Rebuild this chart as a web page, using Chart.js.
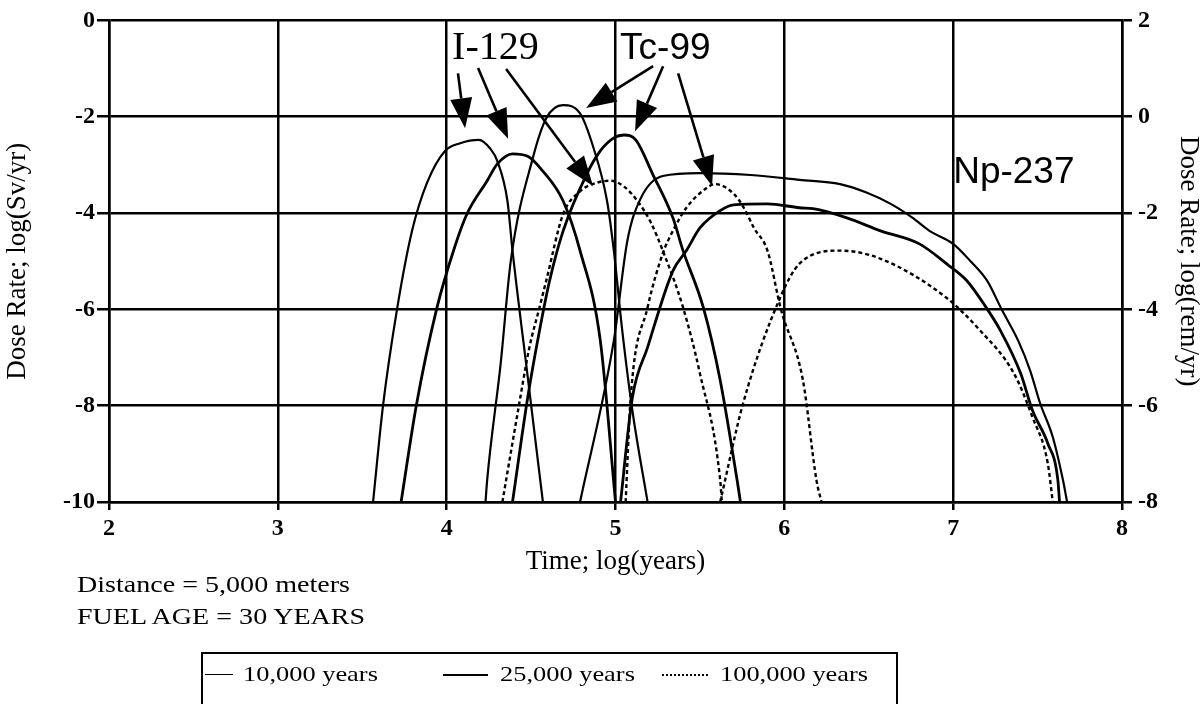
<!DOCTYPE html>
<html>
<head>
<meta charset="utf-8">
<script src="https://cdn.jsdelivr.net/npm/chart.js@4.4.1/dist/chart.umd.min.js"></script>
<style>
  html, body { margin: 0; padding: 0; background: #fff; }
  #wrap { position: relative; width: 1204px; height: 704px; overflow: hidden; background: #fff; }
  #c { position: absolute; left: 0; top: 0; }
  .note { position: absolute; font-family: "Liberation Serif", "Times New Roman", serif; font-size: 23px; color: #000;
          white-space: nowrap; transform-origin: 0 50%; transform: scaleX(1.22); line-height: 28px; }
  #legendBox { position: absolute; left: 201px; top: 652px; width: 697px; height: 90px; border: 2px solid #000; box-sizing: border-box; }
  .lgLine { position: absolute; height: 0; }
  .lgText { position: absolute; font-family: "Liberation Serif", "Times New Roman", serif; font-size: 22px; color: #000;
            white-space: nowrap; transform-origin: 0 50%; transform: scaleX(1.2); line-height: 26px; }
</style>
</head>
<body>
<div id="wrap">
  <canvas id="c" width="1204" height="704"></canvas>
  <div class="note" style="left:77px; top:571px;">Distance = 5,000 meters</div>
  <div class="note" style="left:77px; top:603px;">FUEL AGE = 30 YEARS</div>
  <div id="legendBox"></div>
  <div class="lgLine" style="left:205px; top:674px; width:28px; border-top:1.5px solid #000;"></div>
  <div class="lgText" style="left:243px; top:661px;">10,000 years</div>
  <div class="lgLine" style="left:443px; top:674px; width:45px; border-top:2.5px solid #000;"></div>
  <div class="lgText" style="left:500px; top:661px;">25,000 years</div>
  <div class="lgLine" style="left:662px; top:674px; width:46px; border-top:2px dotted #000;"></div>
  <div class="lgText" style="left:720px; top:661px;">100,000 years</div>
</div>
<script>
// ---- data: [log(years), log(Sv/yr)] ----
const i129_10k = [[3.564,-10],[3.623,-8.0],[3.706,-6.0],[3.795,-4.37],[3.884,-3.37],[3.99,-2.71],[4.08,-2.55],[4.19,-2.48],[4.26,-2.67],[4.30,-2.92],[4.36,-3.75],[4.39,-4.78],[4.48,-7.4],[4.57,-10]];
const i129_25k = [[3.73,-10],[3.82,-8.0],[3.94,-6.0],[4.05,-4.68],[4.12,-4.02],[4.24,-3.33],[4.30,-2.98],[4.39,-2.77],[4.48,-2.82],[4.57,-3.13],[4.69,-3.75],[4.79,-4.78],[4.91,-6.65],[5.0,-10]];
const i129_100k = [[4.33,-10],[4.42,-8.16],[4.49,-6.79],[4.55,-5.96],[4.59,-5.40],[4.69,-4.02],[4.79,-3.55],[4.89,-3.37],[4.97,-3.33],[5.05,-3.45],[5.13,-3.75],[5.21,-4.2],[5.28,-4.78],[5.40,-5.96],[5.50,-7.33],[5.62,-9.54],[5.63,-10]];
const tc99_10k = [[4.23,-10],[4.24,-9.54],[4.32,-7.12],[4.38,-4.99],[4.51,-2.86],[4.59,-2.03],[4.69,-1.76],[4.79,-1.93],[4.87,-2.65],[4.95,-3.75],[4.99,-4.78],[5.04,-6.44],[5.10,-8.10],[5.19,-10]];
const tc99_25k = [[4.39,-10],[4.48,-7.83],[4.55,-6.44],[4.61,-5.40],[4.69,-4.37],[4.83,-3.19],[4.91,-2.71],[4.99,-2.44],[5.05,-2.38],[5.12,-2.48],[5.22,-3.19],[5.34,-4.10],[5.40,-4.78],[5.52,-5.96],[5.62,-7.47],[5.72,-9.54],[5.74,-10]];
const tc99_100k = [[5.06,-10],[5.09,-7.83],[5.19,-5.96],[5.28,-4.84],[5.34,-4.37],[5.42,-3.89],[5.54,-3.48],[5.59,-3.40],[5.70,-3.60],[5.76,-3.89],[5.82,-4.31],[5.90,-4.78],[5.98,-6.0],[6.11,-7.47],[6.19,-9.54],[6.22,-10]];
const np237_10k = [[4.79,-10],[4.99,-6.65],[5.07,-4.58],[5.15,-3.69],[5.28,-3.23],[5.50,-3.17],[5.80,-3.21],[6.09,-3.31],[6.33,-3.40],[6.49,-3.58],[6.63,-3.81],[6.76,-4.10],[6.86,-4.37],[7.0,-4.64],[7.10,-4.99],[7.20,-5.40],[7.29,-6.02],[7.385,-6.65],[7.456,-7.27],[7.515,-7.95],[7.59,-8.65],[7.65,-9.54],[7.675,-10]];
const np237_25k = [[5.03,-10],[5.10,-7.83],[5.19,-6.79],[5.34,-5.20],[5.42,-4.78],[5.50,-4.31],[5.62,-3.95],[5.70,-3.83],[5.90,-3.81],[6.09,-3.89],[6.17,-3.91],[6.37,-4.10],[6.57,-4.37],[6.80,-4.64],[6.96,-5.05],[7.08,-5.40],[7.18,-5.88],[7.28,-6.44],[7.40,-7.33],[7.47,-8.10],[7.56,-8.78],[7.62,-9.54],[7.63,-10]];
const np237_100k = [[5.62,-10],[5.756,-7.95],[5.975,-5.76],[6.09,-5.05],[6.33,-4.78],[6.57,-4.95],[6.96,-5.76],[7.16,-6.44],[7.36,-7.33],[7.47,-8.24],[7.56,-9.19],[7.59,-10]];

// ---- annotations (data coordinates) ----
const labelTexts = ['I-129', 'Tc-99', 'Np-237'];
const labelX = [4.032, 5.027, 7.0];
const labelY = [-0.807, -0.807, -3.375];
const arrowFromX = [4.067, 4.186, 4.352, 5.223, 5.282, 5.371];
const arrowFromY = [-1.10, -0.99, -1.01, -0.95, -0.95, -1.10];
const arrowToX   = [4.109, 4.364, 4.867, 4.826, 5.116, 5.572];
const arrowToY   = [-2.24, -2.46, -3.44, -1.82, -2.30, -3.44];

const serif = '"Liberation Serif", "Times New Roman", serif';
const sans = '"Liberation Sans", Arial, sans-serif';

function toPts(arr) { return arr.map(p => ({x: p[0], y: p[1]})); }
function ds(arr, kind) {
  const base = { data: toPts(arr), borderColor: '#000', pointRadius: 0, fill: false,
                 cubicInterpolationMode: 'monotone', yAxisID: 'y', xAxisID: 'x' };
  if (kind === '10k') { base.borderWidth = 2.2; }
  else if (kind === '25k') { base.borderWidth = 2.8; }
  else { base.borderWidth = 2.4; base.borderDash = [4, 3]; }
  return base;
}

const annotPlugin = {
  id: 'annot',
  afterDraw(chart) {
    const ctx = chart.ctx, xs = chart.scales.x, ys = chart.scales.y;
    ctx.save();
    ctx.fillStyle = '#000'; ctx.strokeStyle = '#000';
    for (let i = 0; i < arrowFromX.length; i++) {
      const x0 = xs.getPixelForValue(arrowFromX[i]), y0 = ys.getPixelForValue(arrowFromY[i]);
      const x1 = xs.getPixelForValue(arrowToX[i]), y1 = ys.getPixelForValue(arrowToY[i]);
      const ang = Math.atan2(y1 - y0, x1 - x0);
      const hl = 30, hw = 11;
      const bx = x1 - hl * Math.cos(ang), by = y1 - hl * Math.sin(ang);
      ctx.lineWidth = 2.6;
      ctx.beginPath(); ctx.moveTo(x0, y0); ctx.lineTo(bx, by); ctx.stroke();
      ctx.beginPath();
      ctx.moveTo(x1, y1);
      ctx.lineTo(bx + hw * Math.sin(ang), by - hw * Math.cos(ang));
      ctx.lineTo(bx - hw * Math.sin(ang), by + hw * Math.cos(ang));
      ctx.closePath(); ctx.fill();
    }
    ctx.textBaseline = 'alphabetic'; ctx.textAlign = 'left';
    for (let i = 0; i < labelTexts.length; i++) {
      ctx.font = (i === 0) ? '40px ' + serif : '37px ' + sans;
      ctx.fillText(labelTexts[i], xs.getPixelForValue(labelX[i]), ys.getPixelForValue(labelY[i]));
    }
    ctx.restore();
  }
};

new Chart(document.getElementById('c'), {
  type: 'line',
  data: {
    datasets: [
      ds(i129_10k, '10k'), ds(i129_25k, '25k'), ds(i129_100k, '100k'),
      ds(tc99_10k, '10k'), ds(tc99_25k, '25k'), ds(tc99_100k, '100k'),
      ds(np237_10k, '10k'), ds(np237_25k, '25k'), ds(np237_100k, '100k')
    ]
  },
  options: {
    responsive: false,
    animation: false,
    layout: { padding: { left: 0, right: 0, top: 19, bottom: 126 } },
    plugins: { legend: { display: false }, tooltip: { enabled: false } },
    scales: {
      x: {
        type: 'linear', min: 2, max: 8,
        afterFit(s) { s.height = 76; },
        ticks: { stepSize: 1, color: '#000', padding: 4, font: { family: serif, size: 24, weight: 'bold' } },
        grid: { color: '#000', lineWidth: 2.5, tickLength: 8 },
        border: { color: '#000', width: 2.5 },
        title: { display: true, text: 'Time; log(years)', color: '#000', padding: { top: 0, bottom: 0 },
                 font: { family: serif, size: 27 } }
      },
      y: {
        type: 'linear', position: 'left', min: -10, max: 0,
        afterFit(s) { s.width = 109; },
        ticks: { stepSize: 2, color: '#000', padding: 2, font: { family: serif, size: 24, weight: 'bold' } },
        grid: { color: '#000', lineWidth: 2.5, tickLength: 12 },
        border: { color: '#000', width: 2.5 },
        title: { display: true, text: 'Dose Rate; log(Sv/yr)', color: '#000', padding: { top: 2, bottom: 0 },
                 font: { family: serif, size: 27 } }
      },
      y2: {
        type: 'linear', position: 'right', min: -8, max: 2,
        afterFit(s) { s.width = 82; },
        ticks: { stepSize: 2, color: '#000', padding: 6, font: { family: serif, size: 24, weight: 'bold' } },
        grid: { drawOnChartArea: false, color: '#000', lineWidth: 2.5, tickLength: 10 },
        border: { color: '#000', width: 2.5 },
        title: { display: true, text: 'Dose Rate; log(rem/yr)', color: '#000', padding: { top: 0, bottom: 0 },
                 font: { family: serif, size: 27 } }
      }
    }
  },
  plugins: [annotPlugin]
});
</script>
</body>
</html>
